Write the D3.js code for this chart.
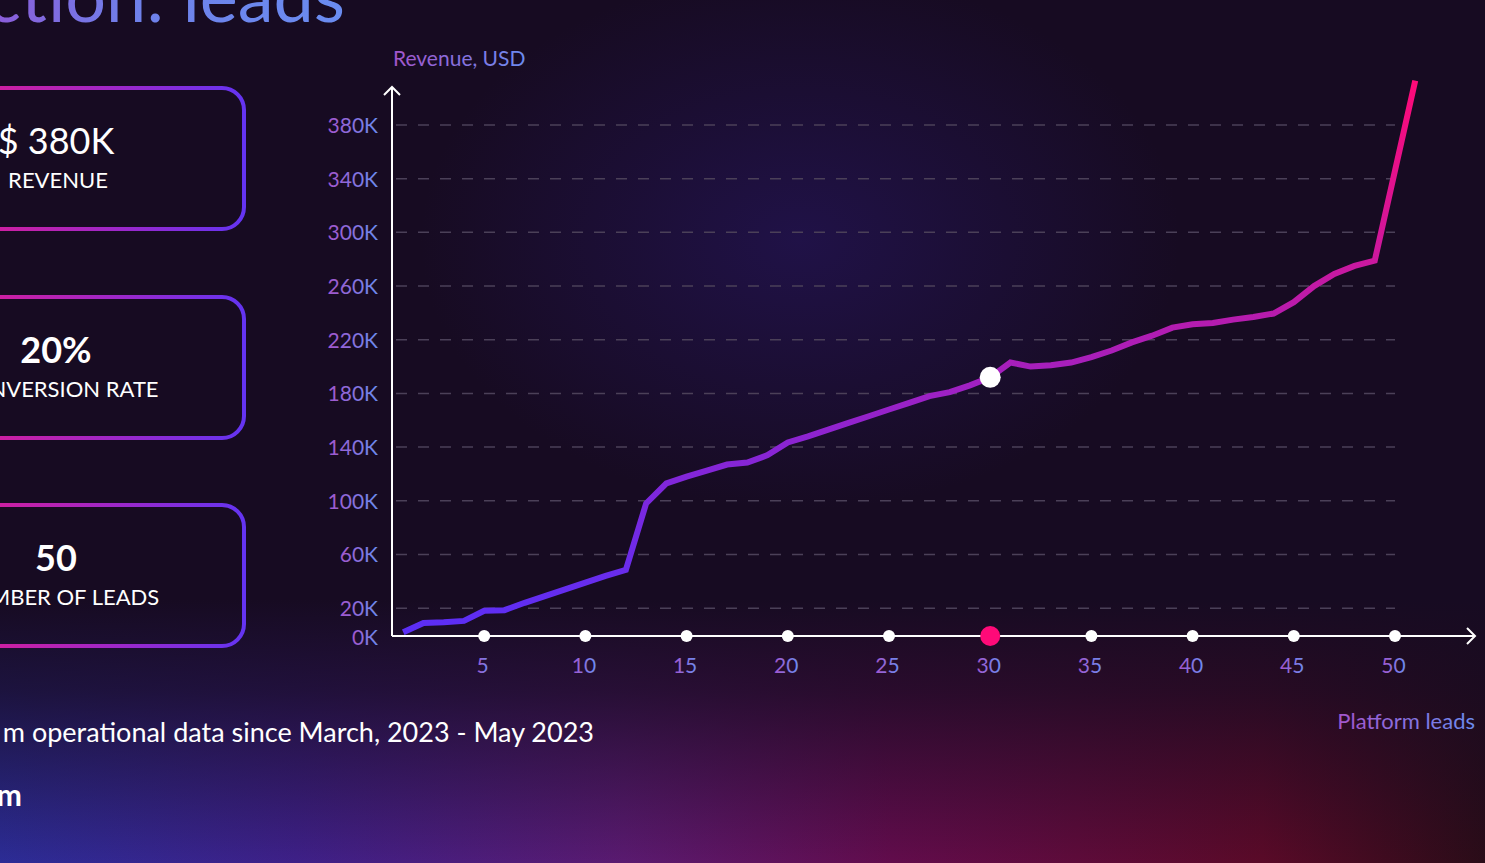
<!DOCTYPE html>
<meta charset="utf-8">
<html>
<head>
    <title>Revenue vs leads</title>
</head>
<style type="text/css">
    body{ margin: 0; background: #170b22; overflow: hidden; }
    text{ font-family: Lato, "Noto Sans", sans-serif; }
</style>
<script src="https://cdn.jsdelivr.net/npm/d3@7"></script>
<body>

<script type="text/javascript">
// revenue (K USD) by platform lead number
var leads = d3.range(1, 52)
var revenue = [2, 9, 9.5, 10.5, 18, 18.5, 24, 29, 34, 39,
               44, 48.5, 98, 113, 118, 122.5, 127, 128.5, 134, 143.5,
               148, 153, 158, 163, 168, 173, 178, 181, 186, 192,
               203, 200, 201, 203, 207, 212, 218, 223, 229, 231.5,
               232.5, 235, 237, 239.5, 248, 260, 269, 275, 279, 346,
               413]
var yTicks = [0, 20, 60, 100, 140, 180, 220, 260, 300, 340, 380]
var xTicks = [5, 10, 15, 20, 25, 30, 35, 40, 45, 50]
var highlightLead = 30

var cardValues = ["$ 380K", "20%", "50"]
var cardLabels = ["REVENUE", "CONVERSION RATE", "NUMBER OF LEADS"]

var data = leads.map((d, i) => ({lead: d, value: revenue[i]}))

var svgWidth = 1485
var svgHeight = 863

var svg = d3.select("body").append("svg")
    .attr("width", svgWidth)
    .attr("height", svgHeight)

var defs = svg.append("defs")

function linGrad(id, stops, attrs){
    var g = defs.append("linearGradient").attr("id", id)
    Object.keys(attrs).forEach(k => g.attr(k, attrs[k]))
    stops.forEach(s => g.append("stop").attr("offset", s[0]).attr("stop-color", s[1]).attr("stop-opacity", s[2] == null ? 1 : s[2]))
}
function radGrad(id, color, op){
    var g = defs.append("radialGradient").attr("id", id)
    g.append("stop").attr("offset", 0).attr("stop-color", color).attr("stop-opacity", op)
    g.append("stop").attr("offset", 1).attr("stop-color", color).attr("stop-opacity", 0)
}

linGrad("txtGrad", [[0, "#a455cc"], [1, "#6b8cf0"]], {x1: 0, x2: 1, y1: 0, y2: 0})
linGrad("titleGrad", [[0, "#8d5ad8"], [0.4, "#6f80ea"], [1, "#6a8cf0"]], {x1: 0, x2: 1, y1: 0, y2: 0})
linGrad("cardGrad", [[0, "#d41e9c"], [0.55, "#9a28cc"], [1, "#6434f2"]],
        {gradientUnits: "userSpaceOnUse", x1: -20, x2: 244, y1: 0, y2: 0})
linGrad("lineGrad", [[0, "#5a2ef6"], [0.12, "#6a2ceb"], [0.35, "#8c24d2"], [0.46, "#a220c0"],
                     [0.56, "#b41cb0"], [0.68, "#cc189e"], [1, "#ff0a78"]],
        {gradientUnits: "userSpaceOnUse", x1: 0, x2: 0, y1: 635, y2: 80})
linGrad("bottomGrad", [[0, "#2c2c96"], [0.2, "#3e2088"], [0.42, "#5a1a70"], [0.6, "#620c4c"],
                       [0.85, "#5a0a28"], [1, "#2a0c18"]], {x1: 0, x2: 1, y1: 0, y2: 0})
linGrad("fadeGrad", [[0, "#170b22", 1], [0.35, "#170b22", 0.75], [1, "#170b22", 0]], {x1: 0, x2: 0, y1: 0, y2: 1})
radGrad("glow", "#261660", 0.6)

// background
svg.append("rect").attr("width", svgWidth).attr("height", svgHeight).attr("fill", "#170b22")
svg.append("ellipse").attr("cx", 800).attr("cy", 240).attr("rx", 380).attr("ry", 270).attr("fill", "url(#glow)")
svg.append("rect").attr("x", 0).attr("y", 600).attr("width", svgWidth).attr("height", 263).attr("fill", "url(#bottomGrad)")
svg.append("rect").attr("x", 0).attr("y", 600).attr("width", svgWidth).attr("height", 263).attr("fill", "url(#fadeGrad)")

// title (cut at the top edge)
svg.append("text")
    .attr("x", 345).attr("y", 22)
    .attr("text-anchor", "end")
    .attr("font-size", 72)
    .attr("fill", "url(#titleGrad)")
    .text("ction: leads")

// cards
var cardTop = [88, 297, 505]
var cards = svg.selectAll(".card").data(cardValues).enter().append("g")
    .attr("class", "card")
    .attr("transform", (d, i) => "translate(0," + cardTop[i] + ")")
cards.append("rect")
    .attr("x", -130).attr("y", 0)
    .attr("width", 374).attr("height", 141)
    .attr("rx", 22)
    .attr("fill", "none")
    .attr("stroke", "url(#cardGrad)")
    .attr("stroke-width", 4)
cards.append("text")
    .attr("x", 56).attr("y", 66)
    .attr("text-anchor", "middle")
    .attr("font-size", 36)
    .attr("font-weight", (d, i) => i == 0 ? 400 : 700)
    .attr("fill", "#fff")
    .text(d => d)
cards.append("text")
    .attr("x", 58).attr("y", 100)
    .attr("text-anchor", "middle")
    .attr("font-size", 22)
    .attr("fill", "#fff")
    .text((d, i) => cardLabels[i])

// footer text
svg.append("text").attr("x", 594).attr("y", 742).attr("text-anchor", "end")
    .attr("font-size", 27).attr("fill", "#fff")
    .text("m operational data since March, 2023 - May 2023")
svg.append("text").attr("x", 22).attr("y", 806).attr("text-anchor", "end")
    .attr("font-size", 30).attr("font-weight", 700).attr("fill", "#fff")
    .text("m")

// chart
var x = d3.scaleLinear().domain([0, 50]).range([383, 1395])
var y = d3.scaleLinear().domain([0, 380]).range([635, 125])
var x0 = 392, yBase = 636

var g = svg.append("g")

g.selectAll(".grid").data(yTicks.filter(d => d > 0)).enter().append("line")
    .attr("class", "grid")
    .attr("x1", 396).attr("x2", 1395)
    .attr("y1", d => y(d)).attr("y2", d => y(d))
    .attr("stroke", "#4b4058")
    .attr("stroke-width", 1.5)
    .attr("stroke-dasharray", "11,11")

var yAxis = d3.axisLeft(y).tickValues(yTicks).tickSize(0).tickPadding(0)
    .tickFormat(d => d + "K")
var yg = g.append("g").attr("transform", "translate(378,0)").call(yAxis)
yg.select(".domain").remove()
yg.selectAll("text")
    .attr("font-size", 21)
    .attr("font-family", "Lato, sans-serif")
    .attr("fill", "url(#txtGrad)")
    .attr("dy", (d) => d == 0 ? "0.45em" : "0.35em")

var xAxis = d3.axisBottom(x).tickValues(xTicks).tickSize(0).tickPadding(0)
var xg = g.append("g").attr("transform", "translate(0," + yBase + ")").call(xAxis)
xg.select(".domain").remove()
xg.selectAll("text")
    .attr("x", -2)
    .attr("y", 37)
    .attr("dy", 0)
    .attr("font-size", 21)
    .attr("font-family", "Lato, sans-serif")
    .attr("fill", "url(#txtGrad)")

// axis lines with arrows
g.append("path")
    .attr("d", "M" + x0 + "," + yBase + "V87M384,95L" + x0 + ",87L400,95")
    .attr("fill", "none").attr("stroke", "#fff").attr("stroke-width", 2)
g.append("path")
    .attr("d", "M" + x0 + "," + yBase + "H1475M1467,628L1475," + yBase + "L1467,644")
    .attr("fill", "none").attr("stroke", "#fff").attr("stroke-width", 2)

g.selectAll(".tickdot").data(xTicks).enter().append("circle")
    .attr("class", "tickdot")
    .attr("cx", d => x(d)).attr("cy", yBase)
    .attr("r", d => d == highlightLead ? 10 : 6)
    .attr("fill", d => d == highlightLead ? "#ff0a78" : "#fff")

g.append("text").attr("x", 393).attr("y", 66)
    .attr("font-size", 21).attr("fill", "url(#txtGrad)")
    .text("Revenue, USD")
g.append("text").attr("x", 1475).attr("y", 729).attr("text-anchor", "end")
    .attr("font-size", 22).attr("fill", "url(#txtGrad)")
    .text("Platform leads")

var line = d3.line().x(d => x(d.lead)).y(d => y(d.value))
g.append("path")
    .datum(data)
    .attr("d", line)
    .attr("fill", "none")
    .attr("stroke", "url(#lineGrad)")
    .attr("stroke-width", 6)
    .attr("stroke-linejoin", "miter")

var hl = data.find(d => d.lead == highlightLead)
g.append("circle")
    .attr("cx", x(hl.lead)).attr("cy", y(hl.value))
    .attr("r", 10.5)
    .attr("fill", "#fff")
</script>
</body>
</html>
